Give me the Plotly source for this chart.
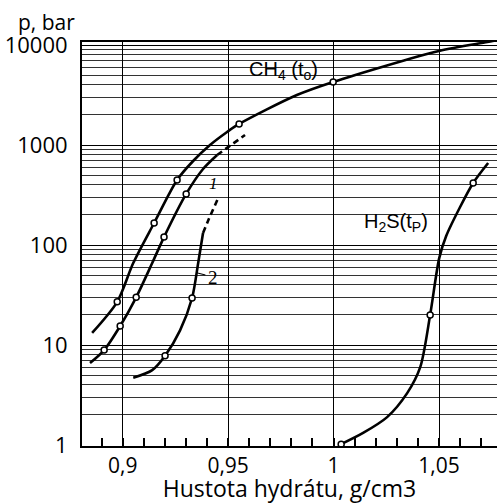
import plotly.graph_objects as go

# ---- data ----
ch4_x = [0.8855, 0.8974, 0.905, 0.9149, 0.9258, 0.9334, 0.9414, 0.9495, 0.9552, 0.9826, 0.9998, 1.05, 1.0729, 1.0775]
ch4_y = [13.2, 27, 66, 166, 447, 692, 1000, 1350, 1622, 3160, 4270, 8710, 10700, 11200]
ch4_mx = [0.8974, 0.9149, 0.9258, 0.9552, 0.9998]
ch4_my = [27, 166, 447, 1622, 4270]

c1_x = [0.8845, 0.8912, 0.8988, 0.9064, 0.914, 0.9196, 0.9301, 0.9381, 0.9448]
c1_y = [6.6, 8.9, 15.5, 30, 66, 120, 324, 575, 794]
c1_dx = [0.9448, 0.958]
c1_dy = [794, 1260]
c1_mx = [0.8912, 0.8988, 0.9064, 0.9196, 0.9301]
c1_my = [8.9, 15.5, 30, 120, 324]

c2_x = [0.905, 0.914, 0.9201, 0.9272, 0.9329, 0.9358, 0.9381]
c2_y = [4.7, 5.6, 7.8, 14, 29.5, 66, 132]
c2_dx = [0.9381, 0.9405, 0.9453]
c2_dy = [132, 175, 295]
c2_mx = [0.9201, 0.9329]
c2_my = [7.8, 29.5]

h2s_x = [1.0036, 1.014, 1.0254, 1.0349, 1.0411, 1.0458, 1.0501, 1.0534, 1.06, 1.0662, 1.0733]
h2s_y = [1.02, 1.32, 1.9, 3.3, 6.0, 20, 74, 123, 240, 417, 660]
h2s_mx = [1.0036, 1.0458, 1.0662]
h2s_my = [1.02, 20, 417]

x_ticks = [0.9, 0.95, 1.0, 1.05]
x_labels = ["0,9", "0,95", "1", "1,05"]
y_ticks = [1, 10, 100, 1000, 10000]
y_labels = ["1", "10", "100", "1000", "10000"]

LW = 2.6
fig = go.Figure()

def curve(x, y, dash="solid"):
    fig.add_trace(go.Scatter(x=x, y=y, mode="lines", line=dict(color="black", width=LW, dash=dash,
                                                               shape="spline", smoothing=0.8),
                             showlegend=False, hoverinfo="skip"))

def marks(x, y):
    fig.add_trace(go.Scatter(x=x, y=y, mode="markers",
                             marker=dict(symbol="circle", size=6, color="white",
                                         line=dict(color="black", width=1.5)),
                             showlegend=False, hoverinfo="skip"))

curve(ch4_x, ch4_y)
curve(c1_x, c1_y)
curve(c1_dx, c1_dy, dash="6px,4px")
curve(c2_x, c2_y)
curve(c2_dx, c2_dy, dash="6px,4px")
curve(h2s_x, h2s_y)
for mx, my in [(ch4_mx, ch4_my), (c1_mx, c1_my), (c2_mx, c2_my), (h2s_mx, h2s_my)]:
    marks(mx, my)

FONT = "Open Sans"
hand = "Liberation Sans"

annos = [
    dict(x=0.9761, y=3.75, text="CH<sub>4</sub> (t<sub>o</sub>)", font=dict(size=20, family=hand, color="black")),
    dict(x=1.0297, y=2.23, text="H<sub>2</sub>S(t<sub>P</sub>)", font=dict(size=20, family=hand, color="black")),
    dict(x=0.9429, y=2.62, text="<i>1</i>", font=dict(size=17, family="Liberation Serif", color="black")),
    dict(x=0.9429, y=1.68, text="2", font=dict(size=19, family="Liberation Serif", color="black")),
]
for a in annos:
    fig.add_annotation(xref="x", yref="y", showarrow=False, **a)

# leader for label 2
fig.add_shape(type="line", xref="x", yref="y", x0=0.9355, x1=0.9392, y0=10**1.72, y1=10**1.70,
              line=dict(color="black", width=1.2))

fig.add_annotation(xref="paper", yref="paper", x=0, y=1, xshift=-66, yshift=20,
                   xanchor="left", yanchor="middle", showarrow=False,
                   text="p, bar", font=dict(size=21, family=FONT, color="black"))

fig.update_layout(
    width=497, height=504, autosize=False,
    margin=dict(l=82, r=0, t=42, b=58, autoexpand=False),
    paper_bgcolor="white", plot_bgcolor="white",
    xaxis=dict(range=[0.8807, 1.0775], tickvals=x_ticks, ticktext=x_labels,
               showgrid=True, gridcolor="black", gridwidth=1.3, automargin=False,
               showline=True, linecolor="black", linewidth=2, mirror=True,
               ticks="", zeroline=False,
               tickfont=dict(size=21, family=FONT, color="black"),
               title=dict(text="Hustota hydrátu, g/cm3", font=dict(size=23, family=FONT, color="black"),
                          standoff=0),
               minor=dict(tickmode="linear", tick0=0.88, dtick=0.01, ticks="inside",
                          ticklen=8, tickwidth=1.5, tickcolor="black", showgrid=False)),
    yaxis=dict(type="log", range=[-0.01, 4.03], tickvals=y_ticks, ticktext=y_labels,
               showgrid=True, gridcolor="black", gridwidth=1.4, automargin=False,
               showline=True, linecolor="black", linewidth=2, mirror=False,
               ticks="", zeroline=False, ticklabelstandoff=8,
               tickfont=dict(size=22, family=FONT, color="black"),
               minor=dict(dtick="D1", showgrid=True, gridcolor="#333", gridwidth=1.1)),
)

fig.write_html("out.html", config={"displayModeBar": False},
               post_script="document.body.style.margin='0';document.body.style.overflow='hidden';")
